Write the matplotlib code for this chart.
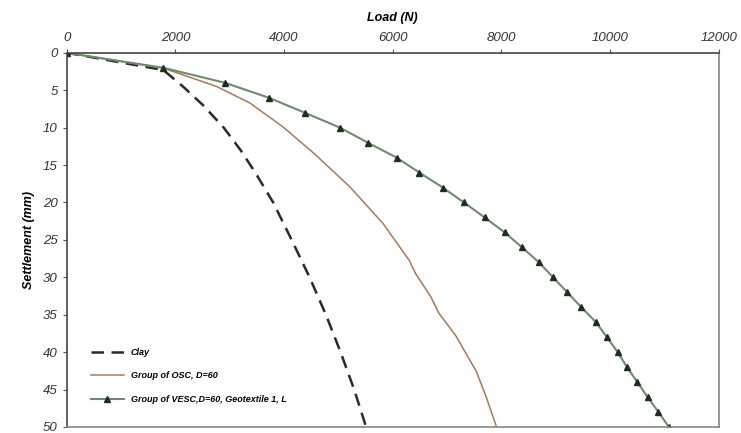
import matplotlib
matplotlib.use('Agg')
import matplotlib.pyplot as plt

plt.rcParams['font.family'] = ['Liberation Sans', 'DejaVu Sans']

# settlement (mm) vs load (N)
clay_settle = [0, 2.3, 4.5, 7, 10, 13, 16, 20, 25, 30, 35, 40, 45, 50]
clay_load = [0, 1780, 2140, 2510, 2890, 3200, 3470, 3800, 4140, 4470, 4770, 5040, 5290, 5510]

osc_settle = [0, 2.05, 4.5, 6.7, 9.9, 13.5, 17.9, 22.8, 27.7, 29.5, 32.6, 34.8, 37.8, 42.6, 46, 50]
osc_load = [0, 1780, 2760, 3370, 3980, 4560, 5210, 5820, 6300, 6420, 6700, 6850, 7160, 7540, 7720, 7910]

vesc_settle = [0, 2, 4, 6, 8, 10, 12, 14, 16, 18, 20, 22, 24, 26, 28, 30, 32, 34, 36, 38, 40, 42, 44, 46, 48, 50]
vesc_load = [0, 1780, 2910, 3720, 4380, 5030, 5540, 6070, 6490, 6920, 7310, 7690, 8060, 8380, 8690,
             8950, 9210, 9470, 9740, 9940, 10140, 10310, 10500, 10690, 10890, 11080]

labels = ['Clay', 'Group of OSC, D=60', 'Group of VESC,D=60, Geotextile 1, L']

fig = plt.figure(figsize=(7.41, 4.33), dpi=100)
ax = fig.add_axes([0.090, 0.014, 0.880, 0.864])

ax.plot(clay_load, clay_settle, color='#2a2a2a', lw=1.8, ls=(0, (5, 3)), label=labels[0])
ax.plot(osc_load, osc_settle, color='#a47a5c', lw=1.1, label=labels[1])
ax.plot(vesc_load, vesc_settle, color='#6f8a72', lw=1.5, marker='^', ms=4,
        mfc='#1d2e20', mec='#1d2e20', label=labels[2])

ax.set_xlim(0, 12000)
ax.set_ylim(50, 0)
ax.set_xticks(range(0, 12001, 2000))
ax.set_yticks(range(0, 51, 5))
ax.xaxis.tick_top()
ax.xaxis.set_label_position('top')
ax.set_xlabel('Load (N)', fontsize=9, fontweight='bold', style='italic', labelpad=8)
ax.set_ylabel('Settlement (mm)', fontsize=9, fontweight='bold', style='italic', labelpad=6)
ax.tick_params(labelsize=9.5, length=3, color='#555555', labelcolor='#333333')
for t in ax.get_xticklabels() + ax.get_yticklabels():
    t.set_style('italic')

ax.spines['top'].set_color('#444444')
ax.spines['left'].set_color('#444444')
ax.spines['right'].set_color('#888888')
ax.spines['bottom'].set_color('#888888')
for s in ax.spines.values():
    s.set_linewidth(1.2)

ax.legend(loc='lower left', bbox_to_anchor=(0.025, 0.04), frameon=False, handlelength=3.6,
          labelspacing=1.6, prop={'size': 6.5, 'weight': 'bold', 'style': 'italic'})

fig.savefig('out.png', dpi=100)
